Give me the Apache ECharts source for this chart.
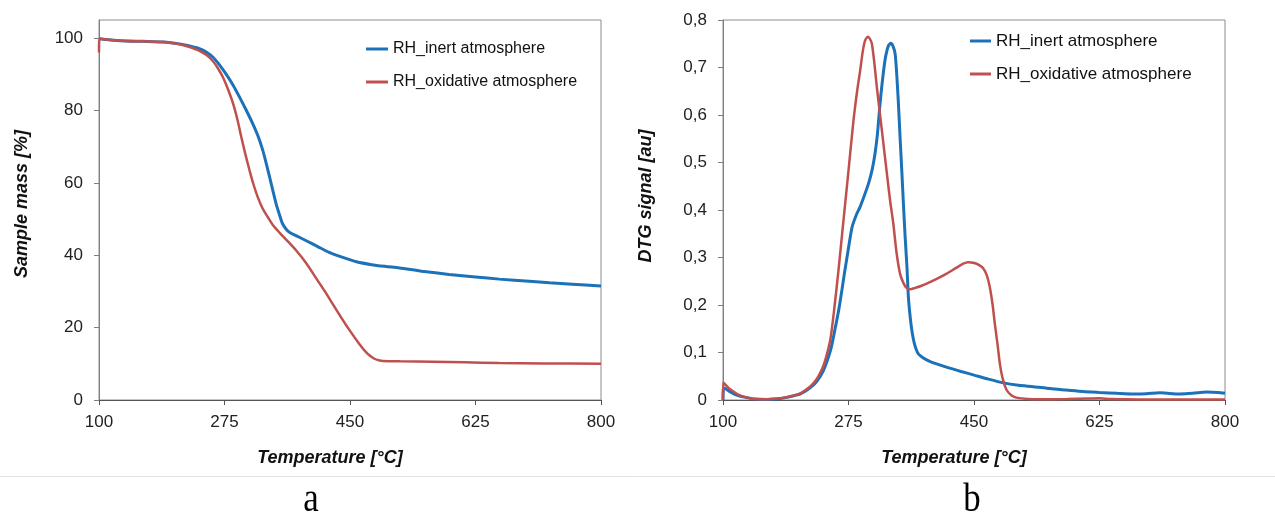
<!DOCTYPE html>
<html>
<head>
<meta charset="utf-8">
<script src="https://cdn.jsdelivr.net/npm/echarts@6/dist/echarts.min.js"></script>
<style>
html,body{margin:0;padding:0;background:#fff;}
#c{width:1275px;height:513px;}
</style>
</head>
<body>
<div id="c"></div>
<script>
// ---- Data ----
var seriesNames = ['RH_inert atmosphere', 'RH_oxidative atmosphere'];
var tempTicks = [100, 275, 450, 625, 800];
var massTicks = [0, 20, 40, 60, 80, 100];
var dtgTicks = [0, 0.1, 0.2, 0.3, 0.4, 0.5, 0.6, 0.7, 0.8];
var dtgTickLabels = ['0', '0,1', '0,2', '0,3', '0,4', '0,5', '0,6', '0,7', '0,8'];
var panelLabels = ['a', 'b'];

// TGA: [temperature, sample mass %]
var tgaInert = [[100,99.9],[110,99.6],[130,99.3],[160,99.1],[190,98.9],[212,98.4],[225,97.9],[240,97.1],[250,96.1],[259,94.7],[268,92.6],[277,90.1],[287,87],[296,83.7],[305,80.2],[314.5,76.3],[322,72.8],[328.5,68.9],[333,65.5],[338,61.5],[342.5,57.8],[347,54.2],[352,51],[356,48.7],[361,47.2],[366,46.3],[378,45.1],[389,44],[405,42.4],[421,40.8],[440,39.4],[459,38.2],[480,37.4],[500,36.9],[519,36.5],[550,35.6],[588,34.7],[625,34.0],[658,33.4],[700,32.8],[728,32.4],[760,32.0],[800,31.5]];
var tgaOxid = [[100,96],[100.5,99.8],[110,99.6],[130,99.3],[160,99.1],[190,98.9],[212,98.3],[225,97.6],[240,96.5],[250,95.3],[259,93.6],[266,91.6],[273,89.1],[280,85.8],[287,81.9],[293,77.5],[298.5,72.6],[304,68],[310,63.4],[316,59.2],[321.5,56],[328,53],[335.5,50.5],[343,48.2],[352,46.2],[363,43.9],[375,41.3],[389,37.8],[403,33.6],[415,30],[426,26.5],[438,22.7],[450,19.1],[463,15.5],[472,13.3],[478,12.2],[484,11.4],[490,11],[496,10.8],[520,10.7],[565,10.6],[610,10.4],[658,10.2],[720,10.1],[800,10.0]];

// DTG: [temperature, signal au]
var dtgInert = [[100,0],[100.5,0.022],[102,0.025],[108,0.019],[115,0.013],[122,0.009],[130,0.006],[145,0.002],[160,0.001],[175,0.002],[190,0.006],[208,0.013],[220,0.024],[230,0.038],[240,0.062],[250,0.105],[255,0.14],[262,0.195],[270,0.273],[275,0.32],[280,0.364],[286,0.39],[291,0.406],[297,0.43],[303,0.456],[308,0.485],[312,0.519],[315,0.555],[317,0.589],[320,0.64],[324,0.694],[327,0.725],[330.7,0.746],[334,0.751],[337,0.745],[340,0.729],[342.5,0.68],[344.6,0.624],[347,0.55],[349.3,0.483],[352,0.40],[354,0.343],[356.5,0.28],[358.5,0.217],[361,0.175],[363.3,0.147],[367,0.118],[372,0.098],[380,0.088],[389,0.081],[400,0.075],[416,0.067],[432,0.06],[449,0.053],[470,0.044],[491,0.036],[512,0.031],[533,0.028],[556,0.024],[579,0.021],[602,0.018],[625,0.016],[650,0.014],[672,0.0126],[690,0.013],[709,0.0154],[720,0.014],[737,0.0126],[755,0.014],[774,0.0168],[790,0.016],[800,0.014]];
var dtgOxid = [[100,0],[100.3,0.037],[103,0.033],[108,0.025],[115,0.0175],[122,0.011],[129,0.007],[143,0.002],[161,0.0015],[175,0.003],[185,0.005],[198,0.009],[208,0.014],[218,0.024],[226,0.035],[233,0.05],[240,0.072],[245,0.097],[250,0.13],[255,0.19],[261,0.273],[268,0.378],[275,0.483],[282,0.589],[287,0.65],[291.3,0.694],[295,0.735],[298.2,0.757],[302,0.765],[305,0.76],[307.6,0.75],[311,0.71],[314.5,0.659],[321.5,0.568],[328.5,0.477],[333,0.42],[337.6,0.37],[342,0.31],[347,0.265],[352,0.245],[356,0.236],[360.9,0.233],[368,0.236],[376,0.24],[384,0.245],[398,0.255],[412,0.266],[424,0.277],[435,0.287],[442,0.29],[449,0.289],[456,0.285],[463,0.277],[468,0.262],[472,0.238],[476,0.2],[479,0.161],[483,0.115],[486,0.077],[490,0.045],[495.5,0.021],[502,0.01],[509,0.005],[525,0.002],[546,0.0015],[580,0.002],[610,0.003],[625,0.0035],[640,0.002],[680,0.001],[800,0.001]];

var BLUE = '#1c72b8';
var RED = '#c0504d';
var FONT = '"Liberation Sans", Arial, sans-serif';
var SERIF = '"Liberation Serif", "Times New Roman", serif';

function xAxisFor(gi){
  return {
    type: 'value', gridIndex: gi, min: 100, max: 800,
    name: 'Temperature [°C]', nameLocation: 'middle', nameGap: 49,
    nameTextStyle: {fontFamily: FONT, fontSize: 18, fontWeight: 'bold', fontStyle: 'italic', color: '#111', padding: [0, 40, 0, 0]},
    axisLine: {show: true, onZero: false, lineStyle: {color: '#555', width: 1}},
    axisTick: {show: true, length: 5, inside: false, customValues: tempTicks, lineStyle: {color: '#555'}},
    axisLabel: {customValues: tempTicks, margin: 14, fontFamily: FONT, fontSize: 17, color: '#222'},
    splitLine: {show: false}
  };
}

function lineSeries(name, xi, data, color, width, z){
  return {name: name, type: 'line', xAxisIndex: xi, yAxisIndex: xi, data: data,
    symbol: 'none', smooth: 0.25, lineStyle: {color: color, width: width},
    itemStyle: {color: color}, z: z};
}

var option = {
  animation: false,
  backgroundColor: '#fff',
  grid: [
    {left: 99, top: 20, width: 502, height: 380, show: true, borderColor: '#8c8c8c', borderWidth: 1, backgroundColor: 'transparent'},
    {left: 723, top: 20, width: 502, height: 380, show: true, borderColor: '#8c8c8c', borderWidth: 1, backgroundColor: 'transparent'}
  ],
  xAxis: [xAxisFor(0), xAxisFor(1)],
  yAxis: [
    {
      type: 'value', gridIndex: 0, min: 0, max: 105,
      name: 'Sample mass [%]', nameLocation: 'middle', nameGap: 68, nameRotate: 90,
      nameTextStyle: {fontFamily: FONT, fontSize: 18, fontWeight: 'bold', fontStyle: 'italic', color: '#111', padding: [0, 0, 0, 12]},
      axisLine: {show: true, lineStyle: {color: '#808080'}},
      axisTick: {show: true, length: 5, customValues: massTicks, lineStyle: {color: '#808080'}},
      axisLabel: {customValues: massTicks, margin: 16, fontFamily: FONT, fontSize: 17, color: '#222'},
      splitLine: {show: false}
    },
    {
      type: 'value', gridIndex: 1, min: 0, max: 0.8,
      name: 'DTG signal [au]', nameLocation: 'middle', nameGap: 68, nameRotate: 90,
      nameTextStyle: {fontFamily: FONT, fontSize: 18, fontWeight: 'bold', fontStyle: 'italic', color: '#111', padding: [0, 0, 0, 28]},
      axisLine: {show: true, lineStyle: {color: '#808080'}},
      axisTick: {show: true, length: 5, customValues: dtgTicks, lineStyle: {color: '#808080'}},
      axisLabel: {customValues: dtgTicks, margin: 16, fontFamily: FONT, fontSize: 17, color: '#222',
        formatter: function(v){ var i = dtgTicks.indexOf(Math.round(v*10)/10); return i >= 0 ? dtgTickLabels[i] : ''; }},
      splitLine: {show: false}
    }
  ],
  legend: [
    {data: seriesNames, orient: 'vertical', left: 361, top: 34, icon: 'rect', itemWidth: 22, itemHeight: 3, itemGap: 13,
     textStyle: {fontFamily: FONT, fontSize: 16, color: '#111', lineHeight: 20}},
    {data: seriesNames, orient: 'vertical', left: 965, top: 26, icon: 'rect', itemWidth: 21, itemHeight: 3, itemGap: 13,
     textStyle: {fontFamily: FONT, fontSize: 17, color: '#111', lineHeight: 20}}
  ],
  series: [
    lineSeries(seriesNames[0], 0, tgaInert, BLUE, 3, 3),
    lineSeries(seriesNames[1], 0, tgaOxid, RED, 2.5, 4),
    lineSeries(seriesNames[0], 1, dtgInert, BLUE, 3, 3),
    lineSeries(seriesNames[1], 1, dtgOxid, RED, 2.5, 4)
  ],
  graphic: [
    {type: 'line', shape: {x1: 0, y1: 476.5, x2: 1275, y2: 476.5}, style: {stroke: '#e2e2e2', lineWidth: 1}},
    {type: 'text', x: 311, y: 521, scaleX: 0.85, style: {text: panelLabels[0], font: '41px ' + SERIF, fill: '#000', textAlign: 'center', textVerticalAlign: 'bottom'}},
    {type: 'text', x: 972, y: 521, scaleX: 0.85, style: {text: panelLabels[1], font: '41px ' + SERIF, fill: '#000', textAlign: 'center', textVerticalAlign: 'bottom'}}
  ]
};

var chart = echarts.init(document.getElementById('c'), null, {renderer: 'canvas', width: 1275, height: 513});
chart.setOption(option);
</script>
</body>
</html>
